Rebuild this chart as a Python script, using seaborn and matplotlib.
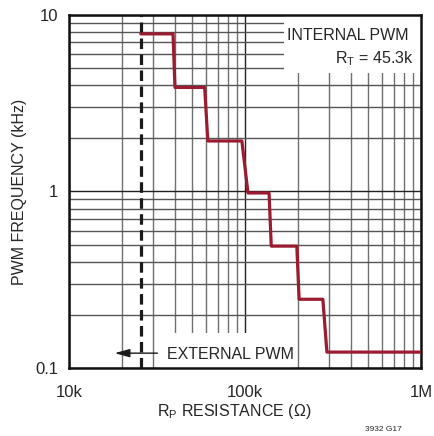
import matplotlib
matplotlib.use("Agg")
import matplotlib.pyplot as plt
import matplotlib.ticker as mticker
from matplotlib.patches import Rectangle
import seaborn as sns
import pandas as pd

# step curve (RP in ohms, frequency in kHz)
rp_ohm = [25.6e3, 39e3, 40e3, 59e3, 61.5e3, 96e3, 104e3, 137e3, 141e3,
          197e3, 203e3, 277e3, 292e3, 1e6]
freq_khz = [7.8, 7.8, 3.88, 3.88, 1.93, 1.93, 0.98, 0.98, 0.49, 0.49,
            0.245, 0.245, 0.123, 0.123]
external_rp = 25.6e3
x_ticks = [1e4, 1e5, 1e6]
x_labels = ["10k", "100k", "1M"]
y_ticks = [0.1, 1, 10]
y_labels = ["0.1", "1", "10"]

df = pd.DataFrame({"rp": rp_ohm, "freq": freq_khz})

sns.set_style("white")
plt.rcParams["font.family"] = ["Liberation Sans", "DejaVu Sans"]
plt.rcParams["mathtext.fontset"] = "custom"
plt.rcParams["mathtext.rm"] = "Liberation Sans"

fs = 12

fig = plt.figure(figsize=(4.34, 4.36), dpi=100)
ax = fig.add_axes([0.159, 0.156, 0.811, 0.810])

ax.set_xscale("log")
ax.set_yscale("log")
ax.set_xlim(1e4, 1e6)
ax.set_ylim(0.1, 10)

# grid
ax.xaxis.set_minor_locator(mticker.LogLocator(base=10, subs=range(2, 10)))
ax.yaxis.set_minor_locator(mticker.LogLocator(base=10, subs=range(2, 10)))
ax.xaxis.set_minor_formatter(mticker.NullFormatter())
ax.yaxis.set_minor_formatter(mticker.NullFormatter())
ax.grid(True, which="major", color="#222222", linewidth=1.0)
ax.grid(True, which="minor", axis="x", color="#707070", linewidth=1.0)
ax.grid(True, which="minor", axis="y", color="#555555", linewidth=1.0)
ax.set_axisbelow(True)

# white boxes behind the labels
ax.add_patch(Rectangle((0.611, 0.836), 0.389, 0.164, transform=ax.transAxes,
                       facecolor="white", edgecolor="none", zorder=2))
ax.add_patch(Rectangle((0.259, 0.0), 0.37, 0.099, transform=ax.transAxes,
                       facecolor="white", edgecolor="none", zorder=2))

ax.axvline(external_rp, color="#1a1a1a", linewidth=2.3, linestyle=(0, (3.3, 1.7)),
           zorder=3)
sns.lineplot(data=df, x="rp", y="freq", ax=ax, color="#9b1b30", linewidth=2.3,
             sort=False, zorder=4)

ax.text(0.966, 0.929, "INTERNAL PWM", transform=ax.transAxes, ha="right",
        va="baseline", fontsize=11.5, zorder=5)
ax.text(0.980, 0.862, r"R$_\mathregular{T}$ = 45.3k", transform=ax.transAxes,
        ha="right", va="baseline", fontsize=11.5, zorder=5)
ax.text(0.278, 0.025, "EXTERNAL PWM", transform=ax.transAxes, ha="left",
        va="baseline", fontsize=11.5, zorder=5)
ax.annotate("", xy=(0.122, 0.042), xytext=(0.259, 0.042),
            xycoords="axes fraction",
            arrowprops=dict(arrowstyle="-|>,head_length=0.9,head_width=0.25",
                            color="#1a1a1a", linewidth=1.0), zorder=5)

ax.set_xticks(x_ticks)
ax.set_xticklabels(x_labels)
ax.set_yticks(y_ticks)
ax.set_yticklabels(y_labels)
ax.tick_params(axis="both", which="both", length=0, labelsize=fs)
ax.tick_params(axis="x", pad=12)
ax.tick_params(axis="y", pad=8)

for s in ax.spines.values():
    s.set_visible(True)
    s.set_color("#111111")
    s.set_linewidth(1.8)

ax.set_xlabel(r"R$_\mathregular{P}$ RESISTANCE ($\Omega$)", fontsize=11.5)
ax.set_ylabel("PWM FREQUENCY (kHz)", fontsize=11.5)
ax.xaxis.set_label_coords(0.469, -0.097)
ax.yaxis.set_label_coords(-0.118, 0.5)

fig.text(0.926, 0.016, "3932 G17", ha="right", va="center", fontsize=6)

fig.savefig("out.png", dpi=100)
